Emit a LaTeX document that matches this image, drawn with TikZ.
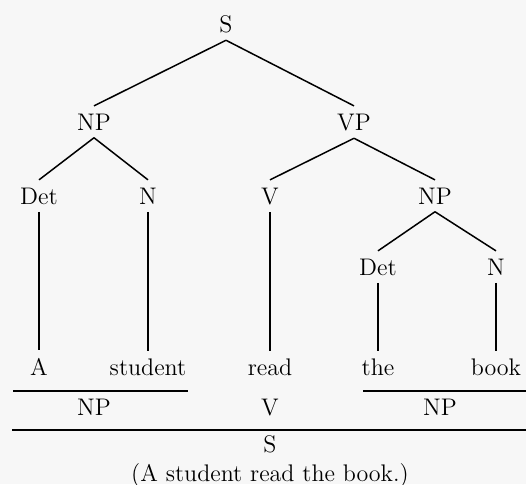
\documentclass[tikz,border=0pt]{standalone}
\begin{document}
\begin{tikzpicture}[x=0.5pt,y=-0.5pt,line width=0.75pt,
  every node/.style={font=\fontsize{12}{14}\selectfont, inner sep=3.5pt, anchor=base}]
  \fill [black!3, use as bounding box] (0,0) rectangle (526,484);
  % the tree
  \node (s) at (226,32) {S};
  \node (np) at (94,130) {NP};
  \node (vp) at (354,130) {VP};
  \node (det) at (39,204) {Det};
  \node (n) at (148,204) {N};
  \node (v) at (270,204) {V};
  \node (np2) at (435,204) {NP};
  \node (det2) at (378,275) {Det};
  \node (n2) at (496,275) {N};
  \node (a) at (39,375) {A};
  \node (student) at (148,375) {student};
  \node (read) at (270,375) {read};
  \node (the) at (378,375) {the};
  \node (book) at (496,375) {book};
  \draw (s.south) -- (np.north);
  \draw (s.south) -- (vp.north);
  \draw (np.south) -- (det.north);
  \draw (np.south) -- (n.north);
  \draw (vp.south) -- (v.north);
  \draw (vp.south) -- (np2.north);
  \draw (np2.south) -- (det2.north);
  \draw (np2.south) -- (n2.north);
  \draw (det.south) -- (a.north);
  \draw (n.south) -- (student.north);
  \draw (v.south) -- (read.north);
  \draw (det2.south) -- (the.north);
  \draw (n2.south) -- (book.north);
  % the bars below
  \coordinate (bar1l) at (13,391);
  \coordinate (bar1r) at (188,391);
  \coordinate (bar2l) at (363,391);
  \coordinate (bar2r) at (526,391);
  \coordinate (bar3l) at (12,430);
  \coordinate (bar3r) at (526,430);
  \draw (bar1l) -- (bar1r);
  \draw (bar2l) -- (bar2r);
  \draw (bar3l) -- (bar3r);
  \node (npa) at (94,415) {NP};
  \node (vb) at (270,415) {V};
  \node (npb) at (440,415) {NP};
  \node (sb) at (270,452) {S};
  \node (gloss) at (270,481) {(A student read the book.)};
\end{tikzpicture}
\end{document}
